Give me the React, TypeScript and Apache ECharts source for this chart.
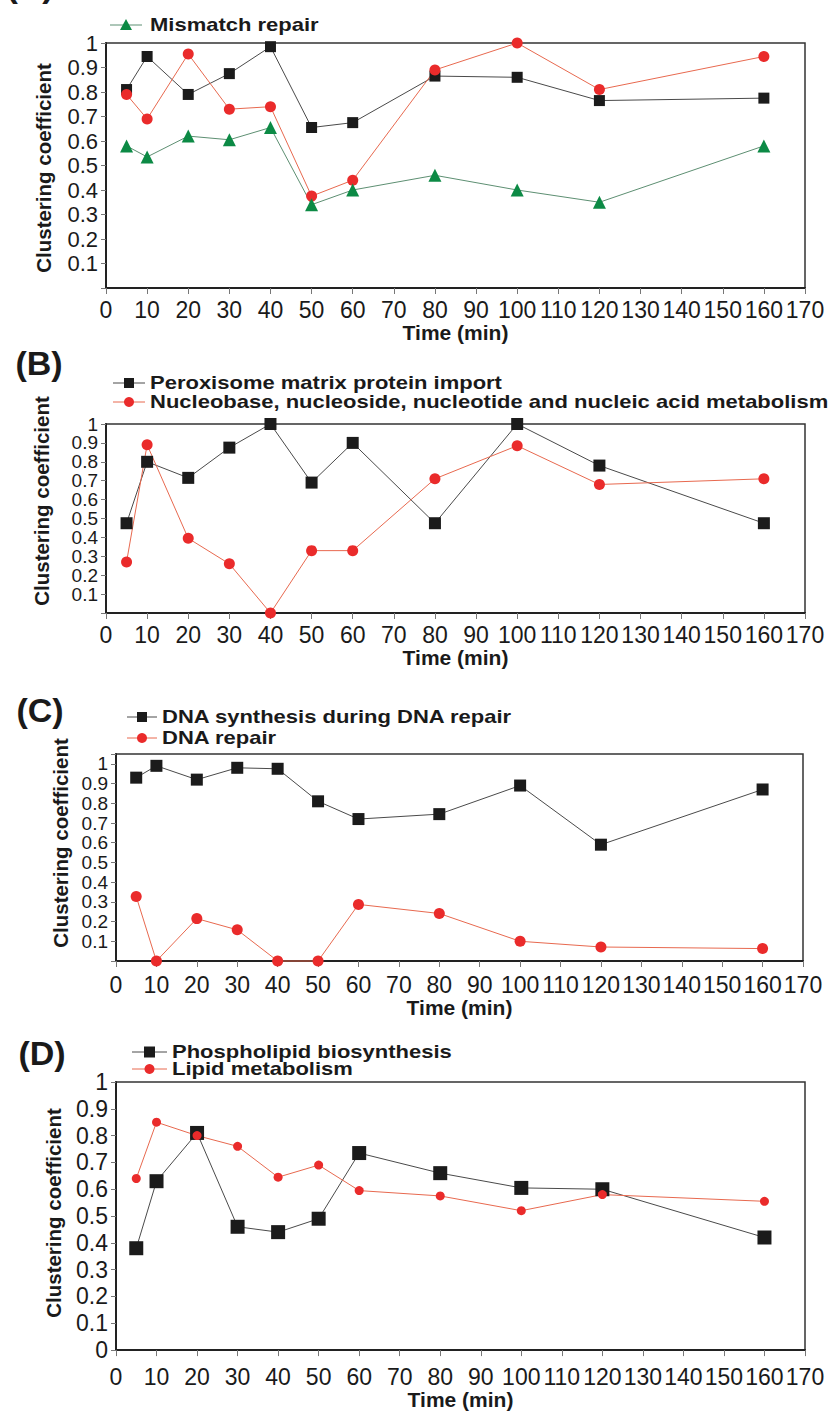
import React, { useEffect, useRef } from "react";
import * as echarts from "echarts";

// Time points (min)
const times = [5, 10, 20, 30, 40, 50, 60, 80, 100, 120, 160];

// Panel A
const aBlack = [0.81, 0.945, 0.79, 0.875, 0.985, 0.655, 0.675, 0.865, 0.86, 0.765, 0.775];
const aRed = [0.79, 0.69, 0.955, 0.73, 0.74, 0.375, 0.44, 0.89, 1.0, 0.81, 0.945];
const aGreen = [0.58, 0.535, 0.62, 0.605, 0.655, 0.34, 0.4, 0.46, 0.4, 0.35, 0.58];

// Panel B
const bBlack = [0.475, 0.8, 0.715, 0.875, 1.0, 0.69, 0.9, 0.475, 1.0, 0.78, 0.475];
const bRed = [0.27, 0.89, 0.395, 0.26, 0.0, 0.33, 0.33, 0.71, 0.885, 0.68, 0.71];

// Panel C
const cBlack = [0.93, 0.99, 0.92, 0.98, 0.975, 0.81, 0.72, 0.745, 0.89, 0.59, 0.87];
const cRed = [0.327, 0.0, 0.215, 0.158, 0.0, 0.0, 0.287, 0.241, 0.1, 0.071, 0.063];

// Panel D
const dBlack = [0.38, 0.63, 0.81, 0.46, 0.44, 0.49, 0.735, 0.66, 0.605, 0.6, 0.42];
const dRed = [0.64, 0.85, 0.8, 0.76, 0.645, 0.69, 0.595, 0.575, 0.52, 0.58, 0.555];

// Series names (legend texts)
const nameA1 = "Series A1";
const nameA2 = "Series A2";
const nameA3 = "Mismatch repair";
const nameB1 = "Peroxisome matrix protein import";
const nameB2 = "Nucleobase, nucleoside, nucleotide and nucleic acid metabolism";
const nameC1 = "DNA synthesis during DNA repair";
const nameC2 = "DNA repair";
const nameD1 = "Phospholipid biosynthesis";
const nameD2 = "Lipid metabolism";

const panelLabels = ["(A)", "(B)", "(C)", "(D)"];
const yTitle = "Clustering coefficient";
const xTitle = "Time (min)";

const FONT = '"Liberation Sans", Arial, Helvetica, sans-serif';
const BLACK = "#1b1b1b";
const BLACK_LINE = "#4a4a4a";
const RED = "#ea2b2b";
const RED_LINE = "#e8694f";
const GREEN = "#0c8a45";
const GREEN_LINE = "#5d8f72";

function pairs(vals: number[]) {
  return times.map((t, i) => [t, vals[i]]);
}

function line(
  name: string,
  vals: number[],
  idx: number,
  symbol: string,
  size: number,
  color: string,
  lineColor: string
) {
  return {
    type: "line",
    name,
    xAxisIndex: idx,
    yAxisIndex: idx,
    data: pairs(vals),
    symbol,
    symbolSize: size,
    showAllSymbol: true,
    itemStyle: { color, borderWidth: 0 },
    lineStyle: { color: lineColor, width: 1 },
    emphasis: { disabled: true },
    clip: false,
  };
}

type LegendRow = {
  x0: number;
  x1: number;
  y: number;
  tx: number;
  sym: "rect" | "circle" | "triangle";
  size: number;
  color: string;
  lineColor: string;
  text: string;
};

function legendRow(r: LegendRow): any[] {
  const cx = (r.x0 + r.x1) / 2;
  const out: any[] = [
    {
      type: "line",
      shape: { x1: r.x0, y1: r.y, x2: r.x1, y2: r.y },
      style: { stroke: r.lineColor, lineWidth: 1 },
    },
  ];
  const s = r.size;
  if (r.sym === "rect") {
    out.push({
      type: "rect",
      shape: { x: cx - s / 2, y: r.y - s / 2, width: s, height: s },
      style: { fill: r.color },
    });
  } else if (r.sym === "circle") {
    out.push({
      type: "circle",
      shape: { cx, cy: r.y, r: s / 2 },
      style: { fill: r.color },
    });
  } else {
    out.push({
      type: "polygon",
      shape: {
        points: [
          [cx, r.y - s / 2],
          [cx + s / 2, r.y + s / 2 - 1],
          [cx - s / 2, r.y + s / 2 - 1],
        ],
      },
      style: { fill: r.color },
    });
  }
  out.push({
    type: "text",
    x: r.tx,
    y: r.y,
    scaleY: 0.82,
    style: {
      text: r.text,
      font: `bold 22px ${FONT}`,
      fill: "#1a1a1a",
      textAlign: "left",
      textVerticalAlign: "middle",
      align: "left",
      verticalAlign: "middle",
    },
  });
  return out;
}

export default function App() {
  const ref = useRef<HTMLDivElement>(null);

  useEffect(() => {
    if (!ref.current) return;
    const chart = echarts.init(ref.current, null, { renderer: "svg" });

    const grids = [
      { left: 106, top: 43, width: 699, height: 245 },
      { left: 106, top: 424, width: 699, height: 189 },
      { left: 116, top: 754, width: 687, height: 207 },
      { left: 116, top: 1082, width: 689, height: 271 },
    ];
    const yMax = [1, 1, 1.05, 1];
    const labelMargin = [10, 10, 12, 15];
    const nameGap = [27, 34, 33, 36];
    const yFont = [22, 19, 19, 23];
    const yLineH = [22, 18, 18, 24];

    const xAxes = grids.map((_, i) => ({
      gridIndex: i,
      type: "value",
      min: 0,
      max: 170,
      interval: 10,
      name: xTitle,
      nameLocation: "middle",
      nameGap: nameGap[i],
      nameTextStyle: { fontFamily: FONT, fontWeight: "bold", fontSize: 21, color: "#1a1a1a" },
      axisLine: { show: true, lineStyle: { color: "#222", width: 2 } },
      axisTick: { show: true, length: 6, lineStyle: { color: "#777", width: 1 } },
      axisLabel: { fontFamily: FONT, fontSize: 23, color: "#1a1a1a", margin: labelMargin[i] },
      splitLine: { show: false },
    }));

    const yAxes = grids.map((_, i) => ({
      gridIndex: i,
      type: "value",
      min: 0,
      max: yMax[i],
      interval: 0.1,
      axisLine: { show: true, lineStyle: { color: "#222", width: 2 } },
      axisTick: { show: true, length: 5, lineStyle: { color: "#777", width: 1 } },
      axisLabel: {
        fontFamily: FONT,
        fontSize: yFont[i],
        lineHeight: yLineH[i],
        color: "#1a1a1a",
        margin: 8,
        showMinLabel: true,
        showMaxLabel: true,
        formatter: (v: number) => {
          if (v === 0 && i !== 3) return "";
          if (v > 1.0001) return "";
          return String(Math.round(v * 10) / 10);
        },
      },
      splitLine: { show: false },
    }));

    const legendRows: LegendRow[] = [
      { x0: 110, x1: 142, y: 25, tx: 150, sym: "triangle", size: 12, color: GREEN, lineColor: GREEN_LINE, text: nameA3 },
      { x0: 113, x1: 145, y: 383, tx: 150, sym: "rect", size: 10, color: BLACK, lineColor: BLACK_LINE, text: nameB1 },
      { x0: 113, x1: 145, y: 402, tx: 150, sym: "circle", size: 10, color: RED, lineColor: RED_LINE, text: nameB2 },
      { x0: 127, x1: 157, y: 717, tx: 162, sym: "rect", size: 10, color: BLACK, lineColor: BLACK_LINE, text: nameC1 },
      { x0: 127, x1: 157, y: 738, tx: 162, sym: "circle", size: 10, color: RED, lineColor: RED_LINE, text: nameC2 },
      { x0: 132, x1: 167, y: 1052, tx: 172, sym: "rect", size: 11, color: BLACK, lineColor: BLACK_LINE, text: nameD1 },
      { x0: 132, x1: 167, y: 1069, tx: 172, sym: "circle", size: 10, color: RED, lineColor: RED_LINE, text: nameD2 },
    ];

    const panelPos = [
      [30, -15],
      [39, 363],
      [40, 710],
      [42, 1053],
    ];
    const yTitlePos = [
      [43, 168],
      [41, 501],
      [60, 843],
      [53, 1213],
    ];

    const graphic: any[] = [];
    panelPos.forEach((p, i) => {
      graphic.push({
        type: "text",
        x: p[0],
        y: p[1],
        style: {
          text: panelLabels[i],
          font: `bold 34px ${FONT}`,
          fill: "#1a1a1a",
          textAlign: "center",
          textVerticalAlign: "middle",
          align: "center",
          verticalAlign: "middle",
        },
      });
    });
    yTitlePos.forEach((p) => {
      graphic.push({
        type: "text",
        x: p[0],
        y: p[1],
        rotation: Math.PI / 2,
        style: {
          text: yTitle,
          font: `bold 20.5px ${FONT}`,
          fill: "#1a1a1a",
          textAlign: "center",
          textVerticalAlign: "middle",
          align: "center",
          verticalAlign: "middle",
        },
      });
    });
    legendRows.forEach((r) => graphic.push(...legendRow(r)));

    const series = [
      line(nameA1, aBlack, 0, "rect", 11, BLACK, BLACK_LINE),
      line(nameA2, aRed, 0, "circle", 11, RED, RED_LINE),
      line(nameA3, aGreen, 0, "triangle", 13, GREEN, GREEN_LINE),
      line(nameB1, bBlack, 1, "rect", 12, BLACK, BLACK_LINE),
      line(nameB2, bRed, 1, "circle", 11, RED, RED_LINE),
      line(nameC1, cBlack, 2, "rect", 12, BLACK, BLACK_LINE),
      line(nameC2, cRed, 2, "circle", 11, RED, RED_LINE),
      line(nameD1, dBlack, 3, "rect", 14, BLACK, BLACK_LINE),
      line(nameD2, dRed, 3, "circle", 9, RED, RED_LINE),
    ];

    chart.setOption({
      animation: false,
      backgroundColor: "#ffffff",
      textStyle: { fontFamily: FONT },
      grid: grids.map((g) => ({
        ...g,
        show: true,
        borderColor: "#333",
        borderWidth: 1.5,
        backgroundColor: "transparent",
        containLabel: false,
      })),
      xAxis: xAxes,
      yAxis: yAxes,
      graphic,
      series,
    });

    return () => {
      chart.dispose();
    };
  }, []);

  return (
    <div
      ref={ref}
      style={{ position: "absolute", left: 0, top: 0, width: 840, height: 1411, background: "#fff" }}
    />
  );
}
